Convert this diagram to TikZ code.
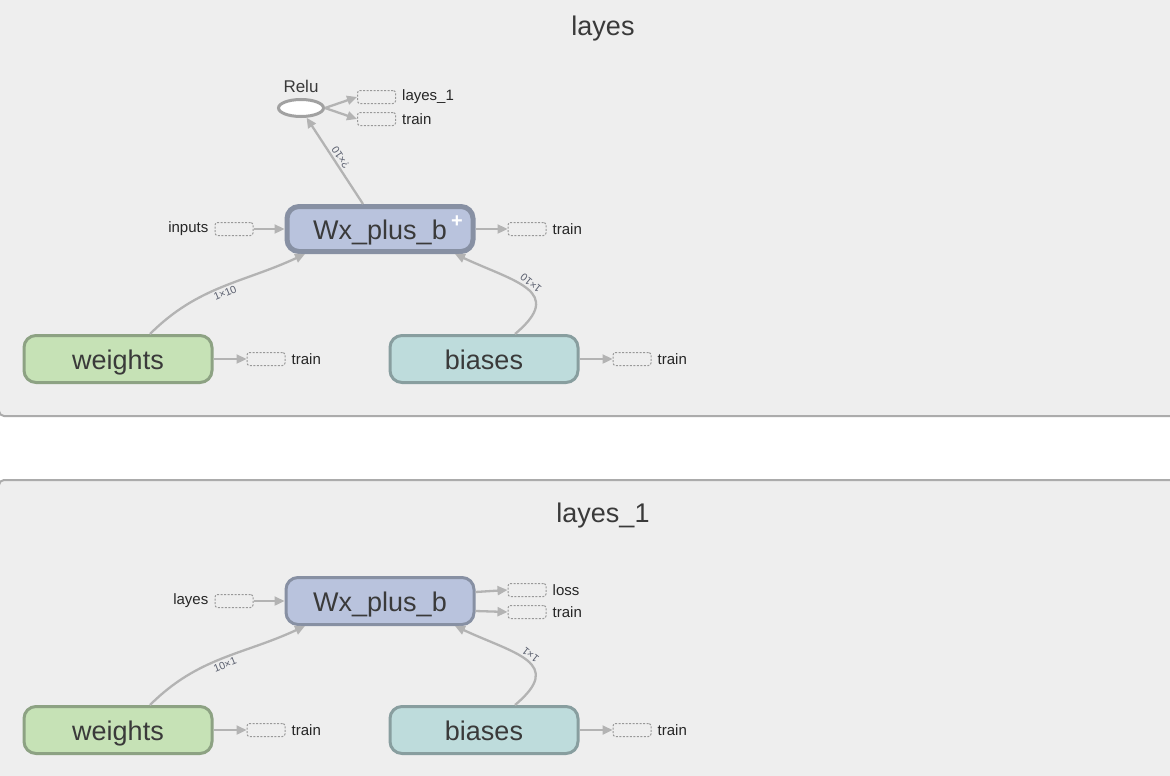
\documentclass[tikz,border=0pt]{standalone}
\usepackage{fontspec}
\setmainfont{Liberation Sans}
\usepackage{xcolor}
\usetikzlibrary{arrows.meta,positioning,shapes.geometric}
\definecolor{panelbg}{HTML}{EEEEEE}
\definecolor{panelrim}{HTML}{ABABAB}
\definecolor{opfill}{HTML}{B9C3DD}
\definecolor{oprim}{HTML}{8790A3}
\definecolor{wfill}{HTML}{C6E2B6}
\definecolor{wrim}{HTML}{8DA283}
\definecolor{bfill}{HTML}{BEDCDC}
\definecolor{brim}{HTML}{889E9F}
\definecolor{edgegray}{HTML}{B3B3B3}
\definecolor{inktext}{HTML}{3A3A3A}
\definecolor{dimtext}{HTML}{5A5F6E}
\newcommand{\fs}[1]{\fontsize{#1}{#1}\selectfont}

\begin{document}
\begin{tikzpicture}[x=1pt, y=1pt, >={Triangle[width=9pt,length=10pt]},
  node distance=32pt,
  every node/.style={text=inktext},
  panel/.style={fill=panelbg, draw=panelrim, line width=2pt, rounded corners=5pt},
  title/.style={font=\fs{27}},
  op/.style={draw=oprim, fill=opfill, line width=3pt, rounded corners=12pt, minimum width=188pt, minimum height=47pt, text height=22pt, text depth=2pt, font=\fs{27}},
  var/.style={line width=3pt, rounded corners=12pt, minimum width=188pt, minimum height=47pt, text height=22pt, text depth=2pt, font=\fs{27}},
  ghost/.style={draw=edgegray!85!black, dashed, dash pattern=on 2pt off 1.5pt, line width=1pt, rounded corners=2.5pt, minimum width=38pt, minimum height=13pt, inner sep=0pt},
  tag/.style={font=\fs{15}, text=black!85, inner sep=1pt},
  edge/.style={draw=edgegray, line width=2.3pt, ->, color=edgegray},
  dim/.style={font=\fs{10.5}, text=dimtext, sloped, allow upside down, inner sep=2pt}]
\useasboundingbox (0,0) rectangle (1170,-776);
\fill[white] (0,0) rectangle (1170,-776);

% panel: layes
\draw[panel] (-1,20) rectangle (1190,-416);
\node[title] (t0) at (603,-29) {layes};
\node[op, line width=5pt, minimum width=186pt, minimum height=45pt] (wx0) at (380,-229) {Wx\_plus\_b\hspace{8pt}};
\node[font=\bfseries\fs{20}, text=white, inner sep=0pt] (plus0) at (457,-222) {+};
\node[var, draw=wrim, fill=wfill] (w0) at (118,-359) {weights};
\node[var, draw=brim, fill=bfill] (b0) at (484,-359) {biases};
\node[ellipse, draw=edgegray!90!black, fill=white, line width=3pt, minimum width=45pt, minimum height=17pt, inner sep=0pt] (relu) at (301,-108) {};
\node[font=\fs{17}, above=2pt of relu] (relulbl) {Relu};

\node[ghost, left=31pt of wx0] (in0) {};
\node[tag, left=5pt of in0] (in0lbl) {inputs};
\node[ghost, right=32pt of wx0] (tr0) {};
\node[tag, right=5pt of tr0] (tr0lbl) {train};
\node[ghost, right=32pt of relu, yshift=11pt] (ly1) {};
\node[tag, right=5pt of ly1] (ly1lbl) {layes\_1};
\node[ghost, right=32pt of relu, yshift=-11pt] (tr1) {};
\node[tag, right=5pt of tr1] (tr1lbl) {train};
\node[ghost, right=33pt of w0] (wtr0) {};
\node[tag, right=5pt of wtr0] (wtr0lbl) {train};
\node[ghost, right=33pt of b0] (btr0) {};
\node[tag, right=5pt of btr0] (btr0lbl) {train};

\draw[edge] (in0) -- (wx0);
\draw[edge] (wx0) -- (tr0);
\draw[edge] (relu.east) -- (ly1.west);
\draw[edge] (relu.east) -- (tr1.west);
\draw[edge] (w0) -- (wtr0);
\draw[edge] (b0) -- (btr0);
\draw[edge] ([xshift=32pt]w0.north) to[out=45, in=205] node[dim, below, pos=0.5] {1×10} ([xshift=-75pt]wx0.south);
\draw[edge] ([xshift=31pt]b0.north) to[out=40, in=-25, looseness=1.7] node[dim, below, pos=0.5] {1×10} ([xshift=75pt]wx0.south);
\draw[edge] ([xshift=-17pt]wx0.north) -- node[dim, below, pos=0.5] {?×10} (relu.-60);

% panel: layes_1
\draw[panel] (-1,-480) rectangle (1190,-800);
\node[title] (t1) at (603,-516) {layes\_1};
\node[op] (wx1) at (380,-601) {Wx\_plus\_b};
\node[var, draw=wrim, fill=wfill] (w1) at (118,-730) {weights};
\node[var, draw=brim, fill=bfill] (b1) at (484,-730) {biases};

\node[ghost, left=31pt of wx1] (in1) {};
\node[tag, left=5pt of in1] (in1lbl) {layes};
\node[ghost, right=32pt of wx1, yshift=11pt] (loss1) {};
\node[tag, right=5pt of loss1] (loss1lbl) {loss};
\node[ghost, right=32pt of wx1, yshift=-11pt] (tr2) {};
\node[tag, right=5pt of tr2] (tr2lbl) {train};
\node[ghost, right=33pt of w1] (wtr1) {};
\node[tag, right=5pt of wtr1] (wtr1lbl) {train};
\node[ghost, right=33pt of b1] (btr1) {};
\node[tag, right=5pt of btr1] (btr1lbl) {train};

\draw[edge] (in1) -- (wx1);
\draw[edge] ([yshift=9pt]wx1.east) -- (loss1.west);
\draw[edge] ([yshift=-10pt]wx1.east) -- (tr2.west);
\draw[edge] (w1) -- (wtr1);
\draw[edge] (b1) -- (btr1);
\draw[edge] ([xshift=32pt]w1.north) to[out=45, in=205] node[dim, below, pos=0.5] {10×1} ([xshift=-75pt]wx1.south);
\draw[edge] ([xshift=31pt]b1.north) to[out=40, in=-25, looseness=1.7] node[dim, below, pos=0.5] {1×1} ([xshift=75pt]wx1.south);
\end{tikzpicture}
\end{document}
